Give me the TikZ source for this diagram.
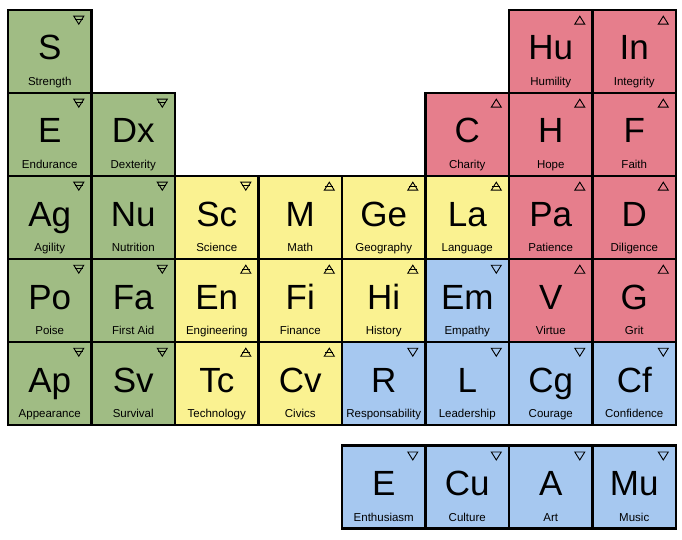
\documentclass[tikz,border=0pt]{standalone}
\usepackage{fontspec}
\setmainfont{Liberation Sans}
\usepackage{xcolor}
\usepackage{tikz}
\definecolor{ptgreen}{RGB}{160,188,132}
\definecolor{ptyellow}{RGB}{250,242,145}
\definecolor{ptred}{RGB}{230,126,140}
\definecolor{ptblue}{RGB}{166,200,240}

\begin{document}
\begin{tikzpicture}[x=83.5pt, y=83pt,
  cell/.style={draw=black, line width=2.6pt, minimum width=83.5pt, minimum height=83pt, inner sep=0pt, text height=50pt, text depth=33pt, font=\fontsize{35}{36}\selectfont},
  lbl/.style={anchor=base, yshift=9pt, inner sep=0pt, font=\fontsize{11.5}{12}\selectfont},
  sign/.style={draw=black, line width=0.9pt},
  fire/.pic={\draw[sign] (0,4pt) -- (5pt,-4pt) -- (-5pt,-4pt) -- cycle;},
  air/.pic={\draw[sign] (0,4pt) -- (5pt,-4pt) -- (-5pt,-4pt) -- cycle; \draw[sign] (-4pt,-0.5pt) -- (4pt,-0.5pt);},
  water/.pic={\draw[sign] (0,-4pt) -- (5pt,4pt) -- (-5pt,4pt) -- cycle;},
  earth/.pic={\draw[sign] (0,-4pt) -- (5pt,4pt) -- (-5pt,4pt) -- cycle; \draw[sign] (-4pt,0.5pt) -- (4pt,0.5pt);}]
  \useasboundingbox (-49.75pt,51.5pt) rectangle (632.25pt,-488.5pt);
  % row 1
  \node[cell, fill=ptgreen, label={[lbl]south:Strength}] (strength) at (0,0) {S};
  \node[cell, fill=ptred, label={[lbl]south:Humility}] (humility) at (6,0) {Hu};
  \node[cell, fill=ptred, label={[lbl]south:Integrity}] (integrity) at (7,0) {In};
  % row 2
  \node[cell, fill=ptgreen, label={[lbl]south:Endurance}] (endurance) at (0,-1) {E};
  \node[cell, fill=ptgreen, label={[lbl]south:Dexterity}] (dexterity) at (1,-1) {Dx};
  \node[cell, fill=ptred, label={[lbl]south:Charity}] (charity) at (5,-1) {C};
  \node[cell, fill=ptred, label={[lbl]south:Hope}] (hope) at (6,-1) {H};
  \node[cell, fill=ptred, label={[lbl]south:Faith}] (faith) at (7,-1) {F};
  % row 3
  \node[cell, fill=ptgreen, label={[lbl]south:Agility}] (agility) at (0,-2) {Ag};
  \node[cell, fill=ptgreen, label={[lbl]south:Nutrition}] (nutrition) at (1,-2) {Nu};
  \node[cell, fill=ptyellow, label={[lbl]south:Science}] (science) at (2,-2) {Sc};
  \node[cell, fill=ptyellow, label={[lbl]south:Math}] (math) at (3,-2) {M};
  \node[cell, fill=ptyellow, label={[lbl]south:Geography}] (geography) at (4,-2) {Ge};
  \node[cell, fill=ptyellow, label={[lbl]south:Language}] (language) at (5,-2) {La};
  \node[cell, fill=ptred, label={[lbl]south:Patience}] (patience) at (6,-2) {Pa};
  \node[cell, fill=ptred, label={[lbl]south:Diligence}] (diligence) at (7,-2) {D};
  % row 4
  \node[cell, fill=ptgreen, label={[lbl]south:Poise}] (poise) at (0,-3) {Po};
  \node[cell, fill=ptgreen, label={[lbl]south:First Aid}] (firstaid) at (1,-3) {Fa};
  \node[cell, fill=ptyellow, label={[lbl]south:Engineering}] (engineering) at (2,-3) {En};
  \node[cell, fill=ptyellow, label={[lbl]south:Finance}] (finance) at (3,-3) {Fi};
  \node[cell, fill=ptyellow, label={[lbl]south:History}] (history) at (4,-3) {Hi};
  \node[cell, fill=ptblue, label={[lbl]south:Empathy}] (empathy) at (5,-3) {Em};
  \node[cell, fill=ptred, label={[lbl]south:Virtue}] (virtue) at (6,-3) {V};
  \node[cell, fill=ptred, label={[lbl]south:Grit}] (grit) at (7,-3) {G};
  % row 5
  \node[cell, fill=ptgreen, label={[lbl]south:Appearance}] (appearance) at (0,-4) {Ap};
  \node[cell, fill=ptgreen, label={[lbl]south:Survival}] (survival) at (1,-4) {Sv};
  \node[cell, fill=ptyellow, label={[lbl]south:Technology}] (technology) at (2,-4) {Tc};
  \node[cell, fill=ptyellow, label={[lbl]south:Civics}] (civics) at (3,-4) {Cv};
  \node[cell, fill=ptblue, label={[lbl]south:Responsability}] (responsability) at (4,-4) {R};
  \node[cell, fill=ptblue, label={[lbl]south:Leadership}] (leadership) at (5,-4) {L};
  \node[cell, fill=ptblue, label={[lbl]south:Courage}] (courage) at (6,-4) {Cg};
  \node[cell, fill=ptblue, label={[lbl]south:Confidence}] (confidence) at (7,-4) {Cf};
  % detached row
  \node[cell, fill=ptblue, label={[lbl]south:Enthusiasm}] (enthusiasm) at (4,-5.25) {E};
  \node[cell, fill=ptblue, label={[lbl]south:Culture}] (culture) at (5,-5.25) {Cu};
  \node[cell, fill=ptblue, label={[lbl]south:Art}] (art) at (6,-5.25) {A};
  \node[cell, fill=ptblue, label={[lbl]south:Music}] (music) at (7,-5.25) {Mu};
  % element signs
  \pic at ([shift={(-14pt,-11.5pt)}]strength.north east) {earth};
  \pic at ([shift={(-14pt,-11.5pt)}]endurance.north east) {earth};
  \pic at ([shift={(-14pt,-11.5pt)}]dexterity.north east) {earth};
  \pic at ([shift={(-14pt,-11.5pt)}]agility.north east) {earth};
  \pic at ([shift={(-14pt,-11.5pt)}]nutrition.north east) {earth};
  \pic at ([shift={(-14pt,-11.5pt)}]poise.north east) {earth};
  \pic at ([shift={(-14pt,-11.5pt)}]firstaid.north east) {earth};
  \pic at ([shift={(-14pt,-11.5pt)}]appearance.north east) {earth};
  \pic at ([shift={(-14pt,-11.5pt)}]survival.north east) {earth};
  \pic at ([shift={(-14pt,-11.5pt)}]science.north east) {earth};
  \pic at ([shift={(-14pt,-11.5pt)}]math.north east) {air};
  \pic at ([shift={(-14pt,-11.5pt)}]geography.north east) {air};
  \pic at ([shift={(-14pt,-11.5pt)}]language.north east) {air};
  \pic at ([shift={(-14pt,-11.5pt)}]engineering.north east) {air};
  \pic at ([shift={(-14pt,-11.5pt)}]finance.north east) {air};
  \pic at ([shift={(-14pt,-11.5pt)}]history.north east) {air};
  \pic at ([shift={(-14pt,-11.5pt)}]technology.north east) {air};
  \pic at ([shift={(-14pt,-11.5pt)}]civics.north east) {air};
  \pic at ([shift={(-14pt,-11.5pt)}]humility.north east) {fire};
  \pic at ([shift={(-14pt,-11.5pt)}]integrity.north east) {fire};
  \pic at ([shift={(-14pt,-11.5pt)}]charity.north east) {fire};
  \pic at ([shift={(-14pt,-11.5pt)}]hope.north east) {fire};
  \pic at ([shift={(-14pt,-11.5pt)}]faith.north east) {fire};
  \pic at ([shift={(-14pt,-11.5pt)}]patience.north east) {fire};
  \pic at ([shift={(-14pt,-11.5pt)}]diligence.north east) {fire};
  \pic at ([shift={(-14pt,-11.5pt)}]virtue.north east) {fire};
  \pic at ([shift={(-14pt,-11.5pt)}]grit.north east) {fire};
  \pic at ([shift={(-14pt,-11.5pt)}]empathy.north east) {water};
  \pic at ([shift={(-14pt,-11.5pt)}]responsability.north east) {water};
  \pic at ([shift={(-14pt,-11.5pt)}]leadership.north east) {water};
  \pic at ([shift={(-14pt,-11.5pt)}]courage.north east) {water};
  \pic at ([shift={(-14pt,-11.5pt)}]confidence.north east) {water};
  \pic at ([shift={(-14pt,-11.5pt)}]enthusiasm.north east) {water};
  \pic at ([shift={(-14pt,-11.5pt)}]culture.north east) {water};
  \pic at ([shift={(-14pt,-11.5pt)}]art.north east) {water};
  \pic at ([shift={(-14pt,-11.5pt)}]music.north east) {water};
\end{tikzpicture}
\end{document}
